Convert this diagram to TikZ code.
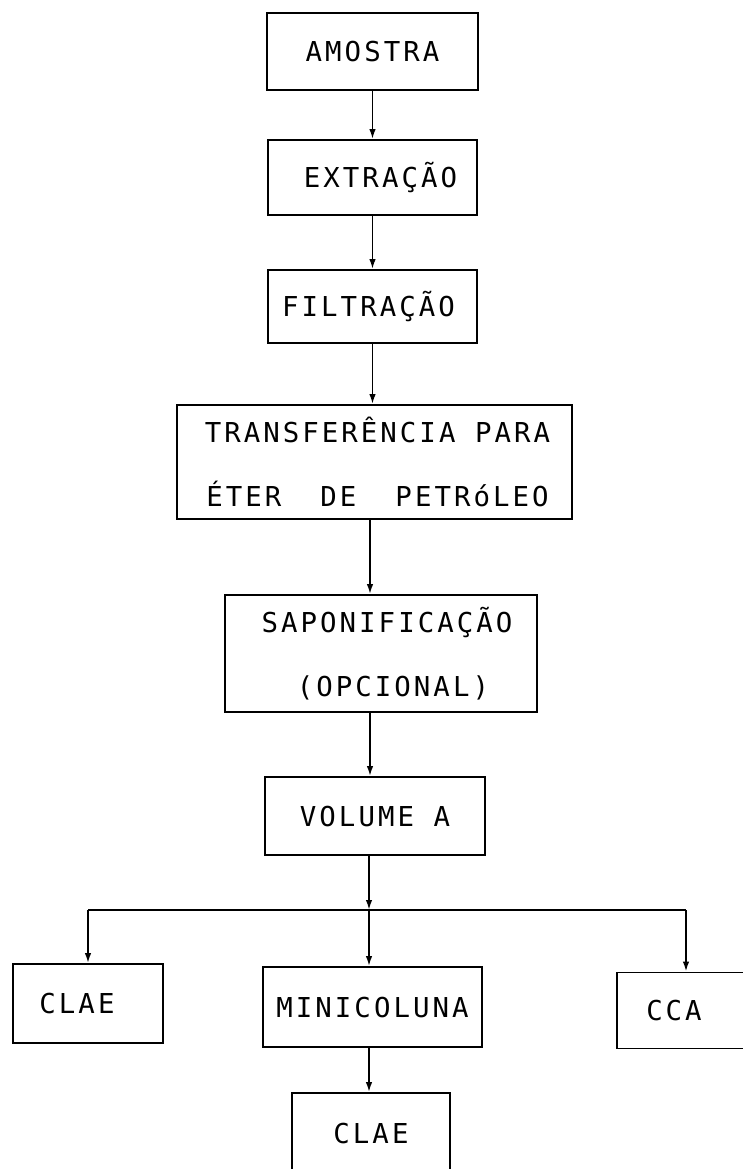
\documentclass[tikz,border=0pt]{standalone}
\usepackage{fontspec}
\setmonofont[LetterSpace=11]{DejaVu Sans Mono}
\usetikzlibrary{arrows.meta}
\begin{document}
\begin{tikzpicture}[x=1pt,y=-1pt,
  box/.style={draw, line width=1.8pt, inner sep=0pt,
    font=\ttfamily\fontsize{27.4}{64}\selectfont, align=center},
  one/.style={text height=20pt, text depth=0pt},
  arr/.style={line width=1.8pt, -{Latex[length=10pt,width=6.5pt]}},
  ln/.style={line width=1.8pt}]
\useasboundingbox (0,0) rectangle (742,1169);
% main column
\node[box, one, minimum width=211pt, minimum height=77pt] (amostra) at (372.5,51.5) {AMOSTRA};
\node[box, one, minimum width=209pt, minimum height=75pt] (extr) at (372.5,177.5) {\hspace*{16pt}EXTRAÇÃO};
\node[box, one, minimum width=209pt, minimum height=73pt] (filt) at (372.5,306.5) {FILTRAÇÃO\hspace*{8pt}};
\node[box, minimum width=395pt, minimum height=114pt] (transf) at (374.5,462) {\hspace*{6pt}TRANSFERÊNCIA PARA\\\hspace*{6pt}ÉTER~~DE~~PETRóLEO};
\node[box, minimum width=312pt, minimum height=117pt] (sapon) at (381,653.5) {\hspace*{12pt}SAPONIFICAÇÃO\\\hspace*{24pt}(OPCIONAL)};
\node[box, one, minimum width=220pt, minimum height=78pt] (vol) at (375,816) {VOLUME A};
% branches
\node[box, one, minimum width=150pt, minimum height=79pt] (claeA) at (88,1003.5) {CLAE\hspace*{22pt}};
\node[box, one, minimum width=219pt, minimum height=80pt] (mini) at (372.5,1007) {MINICOLUNA};
\node[box, one, minimum width=140pt, minimum height=76pt] (cca) at (687,1010.5) {CCA\hspace*{26pt}};
\node[box, one, minimum width=158pt, minimum height=80pt] (claeB) at (371,1133) {CLAE};
% helper coordinates
\coordinate (col) at (370,600);
\coordinate (j) at (369,910);
\coordinate (bl) at (88,910);
\coordinate (br) at (686,910);
% connectors
\draw[arr] (amostra.south) -- (extr.north);
\draw[arr] (extr.south) -- (filt.north);
\draw[arr] (filt.south) -- (filt.south |- transf.north);
\draw[arr] (transf.south -| col) -- (sapon.north -| col);
\draw[arr] (sapon.south -| col) -- (vol.north -| col);
\draw[arr] (vol.south -| j) -- (j);
\draw[ln] (bl) -- (br);
\draw[arr] (bl) -- (bl |- claeA.north);
\draw[arr] (j) -- (j |- mini.north);
\draw[arr] (br) -- (br |- cca.north);
\draw[arr] (mini.south -| j) -- (claeB.north -| j);
\end{tikzpicture}
\end{document}
